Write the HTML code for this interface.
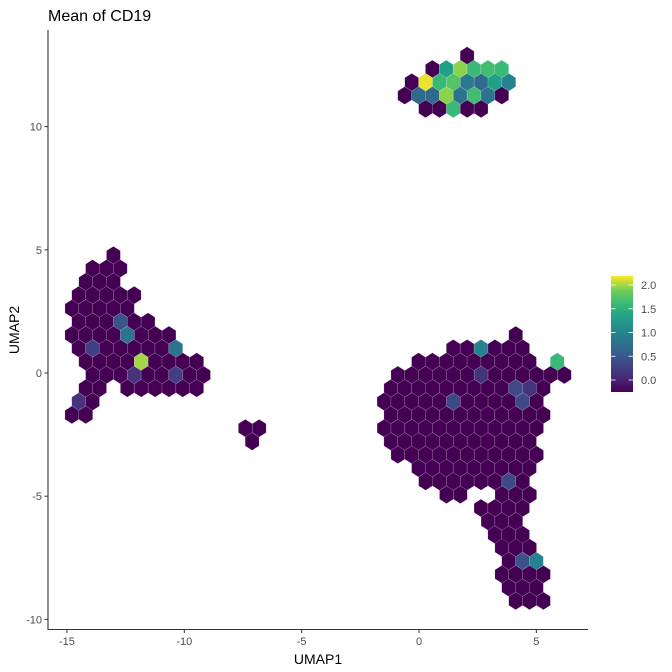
<!DOCTYPE html>
<html><head><meta charset="utf-8"><style>
body{margin:0;background:#fff;}
svg{display:block;font-family:"Liberation Sans",sans-serif;}
</style></head><body>
<svg id="chart" width="672" height="672" viewBox="0 0 672 672">
<defs>
<linearGradient id="vir" x1="0" y1="1" x2="0" y2="0">
<stop offset="0" stop-color="#440154"/><stop offset="0.125" stop-color="#482878"/><stop offset="0.25" stop-color="#3e4a89"/><stop offset="0.375" stop-color="#31688e"/><stop offset="0.5" stop-color="#26828e"/><stop offset="0.625" stop-color="#1f9e89"/><stop offset="0.75" stop-color="#35b779"/><stop offset="0.875" stop-color="#6ece58"/><stop offset="1" stop-color="#fde725"/>
</linearGradient>
</defs>
<text x="48" y="21" font-size="16" fill="#000">Mean of CD19</text>
<g id="hexes"></g>
<line x1="48" y1="30" x2="48" y2="629.5" stroke="#333" stroke-width="1.1"/>
<line x1="47.5" y1="629.5" x2="588" y2="629.5" stroke="#333" stroke-width="1.1"/>
<g id="xticks"></g>
<g id="yticks"></g>
<text x="318" y="664" font-size="14" text-anchor="middle" fill="#000">UMAP1</text>
<text transform="translate(19,330) rotate(-90)" font-size="14" text-anchor="middle" fill="#000">UMAP2</text>
<g>
<rect x="611" y="276" width="22" height="116" fill="url(#vir)"/>
<g id="cbticks"></g>
</g>
</svg>
<script>
// hex rows: y (UMAP2), x of first hex (UMAP1), cell codes (step 0.591 in UMAP1)
const rowY  = [12.88,12.34,11.80,11.26,10.72, 4.78,4.24,3.70,3.16,2.62,2.08,1.54,1.00,0.46,-0.08,-0.62,-1.16,-1.70,-2.24,-2.78,
  1.54,1.00,0.46,-0.08,-0.62,-1.16,-1.70,-2.24,-2.78,-3.32,-3.86,-4.40,-4.94,-5.48,-6.02,-6.56,-7.09,-7.63,-8.17,-8.71,-9.25];
const rowX0 = [2.05,0.57,-0.31,-0.61,0.28, -13.02,-13.91,-14.20,-14.50,-14.79,-14.50,-14.79,-14.50,-14.20,-13.91,-14.20,-14.50,-14.79,-7.40,-7.11,
  4.12,1.46,-0.02,-0.90,-1.20,-1.49,-1.20,-1.49,-1.20,-0.90,-0.02,0.28,1.17,2.64,2.94,3.23,3.53,3.82,3.53,3.82,4.12];
const rowCells = ["0","0imjkj","0ojlgeih","0eemfkf0","00j00",
  "0","000","000","00000","00000","000d00","0000f000","0b00000f","0000n0000","000a00b00","00.000000","a0","00","00","0",
  "0","00h000","000000000.j","000000a000000","000000000ca0","00000c0000c0","000000000000","000000000000","00000000000","00000000000","000000000","000000c0","00..000","0000","000","000","000","0dh","0000","000","000"];
const codeChars  = ["0","a","b","c","d","e","f","g","h","i","j","k","l","m","n","o"];
const codeValues = [-0.25,0.15,0.25,0.35,0.45,0.7,0.8,0.9,0.97,1.3,1.6,1.65,1.75,1.95,2.0,2.15];
const xTicks = [-15,-10,-5,0,5];
const yTicks = [-10,-5,0,5,10];
const legendTicks = [0,0.5,1,1.5,2];
const legendLabels = ["0.0","0.5","1.0","1.5","2.0"];

const NS="http://www.w3.org/2000/svg";
const xs = v => 419 + v*23.47;
const ys = v => 373 - v*24.64;
const lg = v => 380 - v*47.5;
const cellStep = 0.591, hw = 0.2955, hr = 0.36;
const vmin=-0.25, vmax=2.19;
const vir=[[68,1,84],[72,40,120],[62,74,137],[49,104,142],[38,130,142],[31,158,137],[53,183,121],[110,206,88],[253,231,37]];
function color(v){
  let t=Math.max(0,Math.min(1,(v-vmin)/(vmax-vmin)))*(vir.length-1);
  let i=Math.min(vir.length-2,Math.floor(t)),f=t-i;
  const c=vir[i].map((a,j)=>Math.round(a+(vir[i+1][j]-a)*f));
  return `rgb(${c[0]},${c[1]},${c[2]})`;
}
const g=document.getElementById('hexes');
rowCells.forEach((s,r)=>{
  for(let i=0;i<s.length;i++){
    const ch=s[i]; const ci=codeChars.indexOf(ch); if(ci<0) continue;
    const cx=rowX0[r]+i*cellStep, cy=rowY[r];
    const pts=[[0,hr],[hw,hr/2],[hw,-hr/2],[0,-hr],[-hw,-hr/2],[-hw,hr/2]]
      .map(p=>xs(cx+p[0]).toFixed(2)+","+ys(cy+p[1]).toFixed(2)).join(" ");
    const p=document.createElementNS(NS,'polygon');
    p.setAttribute('points',pts);
    p.setAttribute('fill',color(codeValues[ci]));
    p.setAttribute('stroke','#ffffff');p.setAttribute('stroke-width','0.3');p.setAttribute('stroke-opacity','0.5');
    
    
    g.appendChild(p);
  }
});
const xt=document.getElementById('xticks');
xTicks.forEach(v=>{
  const l=document.createElementNS(NS,'line');
  l.setAttribute('x1',xs(v));l.setAttribute('x2',xs(v));l.setAttribute('y1',629.5);l.setAttribute('y2',633);l.setAttribute('stroke','#333');
  
  
  xt.appendChild(l);
  const t=document.createElementNS(NS,'text');
  t.setAttribute('x',xs(v));t.setAttribute('y',645);t.setAttribute('font-size','11');t.setAttribute('fill','#4d4d4d');t.setAttribute('text-anchor','middle');
  t.textContent=v<0?'-'+Math.abs(v):String(v);
  
  
  xt.appendChild(t);
});
const yt=document.getElementById('yticks');
yTicks.forEach(v=>{
  const l=document.createElementNS(NS,'line');
  l.setAttribute('x1',44.5);l.setAttribute('x2',48);l.setAttribute('y1',ys(v));l.setAttribute('y2',ys(v));l.setAttribute('stroke','#333');
  
  
  yt.appendChild(l);
  const t=document.createElementNS(NS,'text');
  t.setAttribute('x',42);t.setAttribute('y',ys(v)+4);t.setAttribute('font-size','11');t.setAttribute('fill','#4d4d4d');t.setAttribute('text-anchor','end');
  t.textContent=String(v);
  
  
  yt.appendChild(t);
});
const cb=document.getElementById('cbticks');
legendTicks.forEach((v,i)=>{
  [[611,615.5],[628.5,633]].forEach(a=>{
    const l=document.createElementNS(NS,'line');
    l.setAttribute('x1',a[0]);l.setAttribute('x2',a[1]);l.setAttribute('y1',lg(v));l.setAttribute('y2',lg(v));l.setAttribute('stroke','#fff');l.setAttribute('stroke-width','0.8');
    
    
    cb.appendChild(l);
  });
  const t=document.createElementNS(NS,'text');
  t.setAttribute('x',641);t.setAttribute('y',lg(v)+4);t.setAttribute('font-size','11');t.setAttribute('fill','#4d4d4d');
  t.textContent=legendLabels[i];
  
  
  cb.appendChild(t);
});
</script>
</body></html>
